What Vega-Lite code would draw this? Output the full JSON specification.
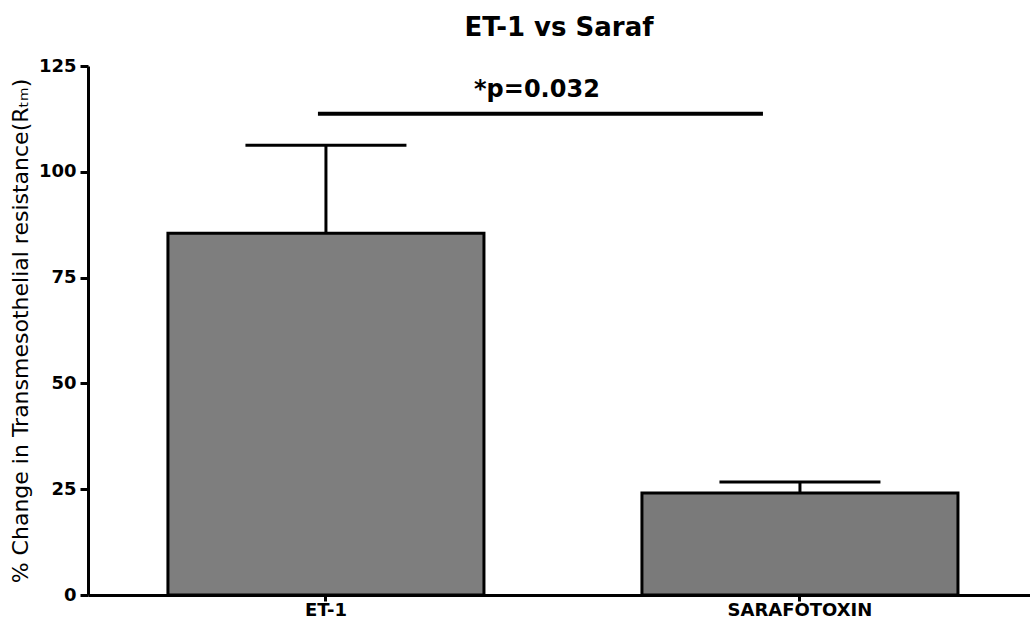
{
  "$schema": "https://vega.github.io/schema/vega-lite/v6.json",
  "autosize": {"type": "none"},
  "width": 942,
  "height": 529,
  "padding": {"left": 88, "top": 66, "right": 0, "bottom": 25},
  "background": "white",
  "title": {
    "text": "ET-1 vs Saraf",
    "font": "DejaVu Sans",
    "fontSize": 26,
    "fontWeight": "bold",
    "color": "black",
    "anchor": "middle",
    "offset": 16
  },
  "datasets": {
    "bars": [
      {"group": "ET-1", "mean": 85.5, "upper": 106.3},
      {"group": "SARAFOTOXIN", "mean": 24.1, "upper": 26.7}
    ],
    "sig": [
      {"group": "ET-1", "to": "SARAFOTOXIN", "y": 113.7, "label": "*p=0.032"}
    ]
  },
  "config": {
    "view": {"stroke": null},
    "axis": {
      "domainColor": "black",
      "domainWidth": 3,
      "tickColor": "black",
      "tickWidth": 3,
      "grid": false,
      "labelColor": "black",
      "titleColor": "black",
      "labelFont": "DejaVu Sans",
      "labelFontWeight": "bold",
      "titleFont": "DejaVu Sans"
    }
  },
  "encoding": {
    "x": {
      "field": "group",
      "type": "nominal",
      "sort": ["ET-1", "SARAFOTOXIN"],
      "scale": {"domain": ["ET-1", "SARAFOTOXIN"], "paddingInner": 0.3333, "paddingOuter": 0.1603, "align": 0.526},
      "axis": {
        "title": null,
        "labelAngle": 0,
        "labelAlign": "center",
        "labelBaseline": "top",
        "labelFontSize": 18,
        "labelPadding": 0,
        "tickSize": 6
      }
    }
  },
  "layer": [
    {
      "data": {"name": "bars"},
      "mark": {"type": "rule", "strokeWidth": 3, "color": "black"},
      "encoding": {
        "y": {"field": "mean", "type": "quantitative"},
        "y2": {"field": "upper"}
      }
    },
    {
      "data": {"name": "bars"},
      "mark": {"type": "bar", "stroke": "black", "strokeWidth": 3},
      "encoding": {
        "y": {
          "field": "mean",
          "type": "quantitative",
          "scale": {"domain": [0, 125], "nice": false},
          "axis": {
            "values": [0, 25, 50, 75, 100, 125],
            "title": "% Change in Transmesothelial resistance(Rₜₘ)",
            "titleFontSize": 22,
            "titleFontWeight": "normal",
            "titlePadding": 6,
            "labelFontSize": 18,
            "labelPadding": 4,
            "tickSize": 8
          }
        },
        "fill": {
          "field": "group",
          "type": "nominal",
          "scale": {"domain": ["ET-1", "SARAFOTOXIN"], "range": ["#7e7e7e", "#7a7a7a"]},
          "legend": null
        }
      }
    },
    {
      "data": {"name": "bars"},
      "mark": {"type": "tick", "color": "black", "thickness": 3, "size": 161, "opacity": 1},
      "encoding": {
        "y": {"field": "upper", "type": "quantitative"}
      }
    },
    {
      "data": {"name": "sig"},
      "mark": {"type": "rule", "strokeWidth": 4, "color": "black", "xOffset": -8, "x2Offset": -37},
      "encoding": {
        "x2": {"field": "to"},
        "y": {"field": "y", "type": "quantitative"}
      }
    },
    {
      "data": {"name": "sig"},
      "mark": {"type": "text", "font": "DejaVu Sans", "fontWeight": "bold", "fontSize": 24, "color": "black", "baseline": "alphabetic", "align": "center", "dx": 211, "dy": -17},
      "encoding": {
        "y": {"field": "y", "type": "quantitative"},
        "text": {"field": "label"}
      }
    }
  ]
}
